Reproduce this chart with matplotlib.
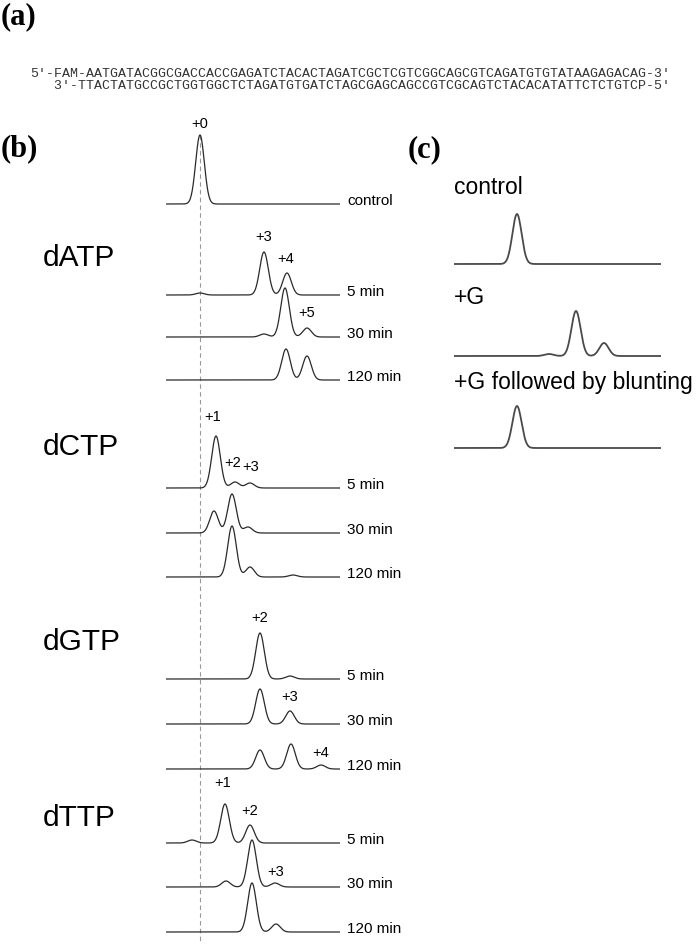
import numpy as np
import matplotlib
matplotlib.use("Agg")
import matplotlib.pyplot as plt

# ---- data ----
seq_top = "5'-FAM-AATGATACGGCGACCACCGAGATCTACACTAGATCGCTCGTCGGCAGCGTCAGATGTGTATAAGAGACAG-3'"
seq_bottom = "3'-TTACTATGCCGCTGGTGGCTCTAGATGTGATCTAGCGAGCAGCCGTCGCAGTCTACACATATTCTCTGTCP-5'"

b_groups = ["dATP", "dCTP", "dGTP", "dTTP"]
b_lane_labels = ["control",
                 "5 min", "30 min", "120 min",
                 "5 min", "30 min", "120 min",
                 "5 min", "30 min", "120 min",
                 "5 min", "30 min", "120 min"]
# peak positions (migration units) and heights for each lane in panel (b)
b_peak_pos = [[34],
              [34, 98, 121], [98, 119, 141], [120, 141],
              [50, 69, 84], [48, 66, 82], [66, 84, 127],
              [94, 124], [94, 124], [94, 125, 155],
              [26, 59, 84], [60, 86, 109], [86, 110]]
b_peak_h = [[69],
            [2, 43, 22], [3, 49, 9], [31, 24],
            [52, 6, 5], [22, 39, 6], [51, 10, 2],
            [46, 3], [35, 13], [19, 25, 4],
            [3, 39, 18], [6, 47, 4], [49, 8]]
b_peak_text = [["+0"],
               ["+3", "+4"], ["+5"], [],
               ["+1", "+2", "+3"], [], [],
               ["+2"], ["+3"], ["+4"],
               ["+1", "+2"], ["+3"], []]

c_lane_labels = ["control", "+G", "+G followed by blunting"]
c_peak_pos = [[63], [95, 122, 150], [63]]
c_peak_h = [[50], [2, 45, 13], [42]]

# ---- layout (pixels of a 697x944 figure) ----
W, H = 697, 944
b_x0, b_x1 = 166, 340
b_base = [204, 295, 337, 380, 488, 533, 577, 679, 724, 769, 843, 887, 932]
b_group_y = [258, 447, 642, 818]
# label anchor (x offset, y) for each annotated peak
b_text_xy = [[(34, 124)],
             [(98, 237), (120, 259)], [(141, 313)], [],
             [(47, 417), (67, 463), (85, 467)], [], [],
             [(94, 618)], [(124, 697)], [(155, 753)],
             [(57, 783), (84, 811)], [(110, 872)], []]
c_x0, c_x1 = 454, 661
c_base = [264, 356, 448]
c_label_y = [187, 297, 383]

SANS = ["Liberation Sans", "DejaVu Sans"]


def trace(x, pos, heights, sigma=4.3):
    y = np.zeros_like(x)
    for p, h in zip(pos, heights):
        y += h * np.exp(-0.5 * ((x - p) / sigma) ** 2)
    return y


fig = plt.figure(figsize=(W / 100, H / 100), dpi=100)
fig.patch.set_facecolor("white")


def px_axes(x0, x1):
    ax = fig.add_axes([x0 / W, 0, (x1 - x0) / W, 1])
    ax.set_xlim(0, x1 - x0)
    ax.set_ylim(H, 0)
    ax.axis("off")
    return ax


bg = fig.add_axes([0, 0, 1, 1])
bg.set_xlim(0, W)
bg.set_ylim(H, 0)
bg.axis("off")

# panel letters
for lab, (x, y) in zip(["(a)", "(b)", "(c)"], [(1, 17), (1, 149), (408, 150)]):
    bg.text(x, y, lab, fontsize=22, fontweight="bold", family="Liberation Serif",
            ha="left", va="center")

# sequence
bg.text(30, 74, seq_top, fontsize=9.5, family="Liberation Mono", color="#333333",
        ha="left", va="center")
bg.text(30, 86, "   " + seq_bottom, fontsize=9.5, family="Liberation Mono",
        color="#333333", ha="left", va="center")

# panel (b)
ax_b = px_axes(b_x0, b_x1)
xb = np.linspace(0, b_x1 - b_x0, 600)
ax_b.plot([34, 34], [135, 944], ls=(0, (4, 3)), color="#999999", lw=0.8)
for i, base in enumerate(b_base):
    y = trace(xb, b_peak_pos[i], b_peak_h[i])
    ax_b.plot(xb, base - y, color="#2a2a2a", lw=0.9)
    ax_b.text(b_x1 - b_x0 + 7, base - 3, b_lane_labels[i], fontsize=11,
              family=SANS, ha="left", va="center", clip_on=False)
    for t, (tx, ty) in zip(b_peak_text[i], b_text_xy[i]):
        ax_b.text(tx, ty, t, fontsize=10.5, family=SANS, ha="center",
                  va="center", clip_on=False)

for g, gy in zip(b_groups, b_group_y):
    bg.text(43, gy, g, fontsize=21.5, family=SANS, ha="left", va="center")

# panel (c)
ax_c = px_axes(c_x0, c_x1)
xc = np.linspace(0, c_x1 - c_x0, 600)
for i, base in enumerate(c_base):
    y = trace(xc, c_peak_pos[i], c_peak_h[i], sigma=4.6)
    ax_c.plot(xc, base - y, color="#4a4a4a", lw=1.3)
for lab, ly in zip(c_lane_labels, c_label_y):
    bg.text(c_x0, ly, lab, fontsize=16.5, family=SANS, ha="left", va="center")

fig.savefig("out.png", dpi=100, facecolor="white")
